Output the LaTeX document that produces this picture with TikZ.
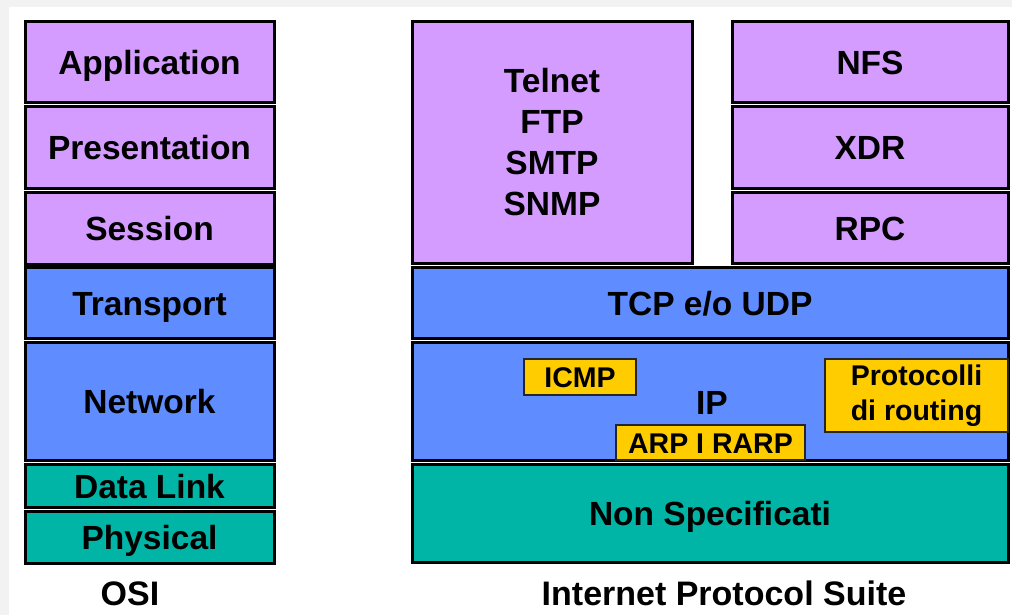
\documentclass[tikz,border=0pt]{standalone}
\usepackage{fontspec}
\setmainfont{Liberation Sans}
\definecolor{lpurple}{HTML}{D49CFE}
\definecolor{lblue}{HTML}{5F8CFF}
\definecolor{lteal}{HTML}{00B5A6}
\definecolor{lyellow}{HTML}{FFCC00}
\definecolor{bggray}{HTML}{F2F2F2}
\tikzset{
  layer/.style={draw=black, line width=3pt, inner sep=0pt, align=center,
    font=\fontsize{33.5}{41}\selectfont\bfseries},
  oneline/.style={text height=25pt, text depth=0pt},
  sub/.style={draw=black!85, line width=2pt, fill=lyellow, inner sep=0pt, align=center,
    font=\fontsize{28.5}{35}\selectfont\bfseries},
  caption/.style={font=\fontsize{34}{40}\selectfont\bfseries, text height=25pt, text depth=0pt},
}
\begin{document}
\begin{tikzpicture}[x=1pt,y=-1pt]
\useasboundingbox (0,0) rectangle (1012,615);
\fill[bggray] (0,0) rectangle (1012,615);
\fill[white] (9,7) rectangle (1012,615);
% OSI column
\node[layer, oneline, fill=lpurple, minimum width=249, minimum height=81] (app) at (149.5,62.5) {Application};
\node[layer, oneline, fill=lpurple, minimum width=249, minimum height=81] (pres) at (149.5,147.5) {Presentation};
\node[layer, oneline, fill=lpurple, minimum width=249, minimum height=72] (sess) at (149.5,228) {Session};
\node[layer, oneline, fill=lblue, minimum width=249, minimum height=71] (trans) at (149.5,302.5) {Transport};
\node[layer, oneline, fill=lblue, minimum width=249, minimum height=118] (net) at (149.5,401) {Network};
\node[layer, oneline, fill=lteal, minimum width=249, minimum height=43] (dl) at (149.5,485.5) {Data Link};
\node[layer, oneline, fill=lteal, minimum width=249, minimum height=52] (phy) at (149.5,537) {Physical};
\node[caption] (osi) at (130,593) {OSI};
% Internet Protocol Suite
\node[layer, fill=lpurple, minimum width=280, minimum height=241] (apps) at (552,142.5) {Telnet\\FTP\\SMTP\\SNMP};
\node[layer, oneline, fill=lpurple, minimum width=276, minimum height=81] (nfs) at (870,62.5) {NFS};
\node[layer, oneline, fill=lpurple, minimum width=276, minimum height=81] (xdr) at (870,147.5) {XDR};
\node[layer, oneline, fill=lpurple, minimum width=276, minimum height=71] (rpc) at (870,227.5) {RPC};
\node[layer, oneline, fill=lblue, minimum width=596, minimum height=71] (tcp) at (710,302.5) {TCP e/o UDP};
\node[layer, fill=lblue, minimum width=596, minimum height=118] (ip) at (710,401) {};
\node[layer, oneline, fill=lteal, minimum width=596, minimum height=98] (ns) at (710,513) {Non Specificati};
\node[layer, oneline, draw=none, fill=none] (iplabel) at (712,402) {IP};
\node[sub, minimum width=112, minimum height=36, text height=21pt, text depth=0pt] (icmp) at (580,377) {ICMP};
\node[sub, minimum width=189, minimum height=35, text height=21pt, text depth=0pt] (arp) at (710.5,442.5) {ARP I RARP};
\node[sub, minimum width=183, minimum height=73] (routing) at (916.5,395.5) {Protocolli\\di routing};
\node[caption] (ips) at (724,593) {Internet Protocol Suite};
\end{tikzpicture}
\end{document}
